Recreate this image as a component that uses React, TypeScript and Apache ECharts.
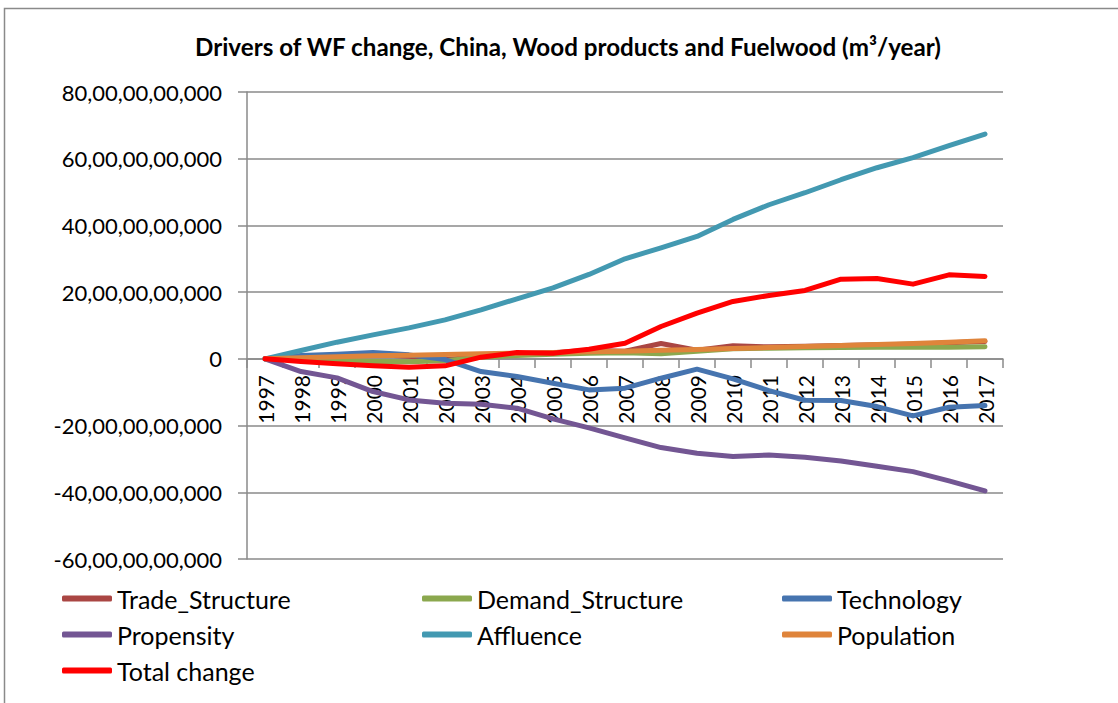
import React, { useEffect, useRef } from "react";
import * as echarts from "echarts";

const years = ["1997","1998","1999","2000","2001","2002","2003","2004","2005","2006","2007","2008","2009","2010","2011","2012","2013","2014","2015","2016","2017"];

// values in billions of m3/year
const tradeStructure = [0, 0.5, 0.8, 1.3, 0.8, -0.3, 0.8, 1.5, 1.8, 2.6, 2.3, 4.6, 2.6, 3.9, 3.6, 3.8, 4.0, 4.2, 4.4, 4.8, 5.2];
const demandStructure = [0, -0.2, -0.5, -0.8, -0.9, -0.6, 0.5, 1.0, 1.4, 1.7, 1.8, 1.5, 2.3, 3.0, 3.2, 3.3, 3.4, 3.5, 3.5, 3.5, 3.6];
const technology = [0, 1.0, 1.4, 1.9, 1.2, -0.2, -3.8, -5.3, -7.3, -9.3, -8.8, -5.8, -3.1, -6.0, -9.5, -12.4, -12.5, -14.3, -17.1, -14.5, -14.0];
const propensity = [0, -3.8, -5.7, -9.8, -12.3, -13.3, -13.6, -14.8, -18.0, -20.7, -23.7, -26.6, -28.3, -29.3, -28.8, -29.5, -30.6, -32.2, -33.8, -36.6, -39.6];
const affluence = [0, 2.5, 5.0, 7.2, 9.3, 11.7, 14.7, 18.0, 21.3, 25.3, 30.0, 33.3, 36.7, 41.8, 46.2, 49.8, 53.7, 57.3, 60.3, 63.9, 67.4];
const population = [0, 0.3, 0.6, 0.9, 1.1, 1.3, 1.5, 1.7, 1.9, 2.1, 2.3, 2.6, 2.8, 3.1, 3.4, 3.7, 4.0, 4.3, 4.6, 5.0, 5.4];
const totalChange = [0, -0.8, -1.5, -2.1, -2.5, -2.1, 0.5, 1.9, 1.7, 2.9, 4.7, 9.7, 13.7, 17.2, 19.0, 20.5, 23.9, 24.1, 22.4, 25.2, 24.7];

const seriesNames = ["Trade_Structure", "Demand_Structure", "Technology", "Propensity", "Affluence", "Population", "Total change"];
const seriesData = [tradeStructure, demandStructure, technology, propensity, affluence, population, totalChange];
const seriesColors = ["#AA4643", "#8BA84E", "#4674AF", "#735693", "#4399B1", "#DF843B", "#FF0000"];

const FONT = "Lato";

function indian(v: number): string {
  const n = Math.round(v * 1e9);
  const neg = n < 0;
  const s = String(Math.abs(n));
  let out = s;
  if (s.length > 3) {
    const last3 = s.slice(-3);
    let rest = s.slice(0, -3);
    const parts: string[] = [];
    while (rest.length > 2) {
      parts.unshift(rest.slice(-2));
      rest = rest.slice(0, -2);
    }
    if (rest) parts.unshift(rest);
    out = parts.join(",") + "," + last3;
  }
  return (neg ? "-" : "") + out;
}

export default function App() {
  const ref = useRef<HTMLDivElement>(null);
  useEffect(() => {
    if (!ref.current) return;
    const chart = echarts.init(ref.current, null, { renderer: "svg" });
    const legendItem = (names: string[], left: number) => ({
      orient: "vertical",
      left,
      top: 586,
      padding: 0,
      itemWidth: 50,
      itemHeight: 6,
      itemGap: 11,
      icon: "roundRect",
      data: names,
      textStyle: { fontFamily: FONT, fontSize: 25, color: "#000", lineHeight: 25 },
    });
    chart.setOption({
      animation: false,
      backgroundColor: "#fff",
      title: {
        text: "Drivers of WF change, China, Wood products and Fuelwood (m³/year)",
        left: 568,
        top: 34,
        padding: 0,
        textAlign: "center",
        textStyle: { fontFamily: FONT, fontSize: 24.2, fontWeight: "bold", color: "#000" },
      },
      graphic: [
        {
          type: "rect",
          shape: { x: 4.5, y: 8.5, width: 1300, height: 900 },
          style: { fill: "none", stroke: "#8a8a8a", lineWidth: 1.5 },
          silent: true,
        },
      ],
      legend: [
        legendItem(["Trade_Structure", "Propensity", "Total change"], 62),
        legendItem(["Demand_Structure", "Affluence"], 422),
        legendItem(["Technology", "Population"], 782),
      ],
      grid: { left: 247, right: 115, top: 92, bottom: 144, containLabel: false },
      xAxis: {
        type: "category",
        data: years,
        boundaryGap: true,
        position: "bottom",
        offset: -200,
        axisLine: { onZero: false, lineStyle: { color: "#8a8a8a", width: 1.5 } },
        axisTick: { show: true, length: 9, inside: false, alignWithLabel: false, lineStyle: { color: "#8a8a8a", width: 1.5 } },
        axisLabel: { rotate: 90, margin: 16, fontFamily: FONT, fontSize: 21, color: "#000", interval: 0 },
        splitLine: { show: false },
      },
      yAxis: {
        type: "value",
        min: -60,
        max: 80,
        interval: 20,
        axisLine: { show: true, lineStyle: { color: "#8a8a8a", width: 1.5 } },
        axisTick: { show: true, length: 9, lineStyle: { color: "#8a8a8a", width: 1.5 } },
        axisLabel: { formatter: (v: number) => indian(v), margin: 25, fontFamily: FONT, fontSize: 22, color: "#000" },
        splitLine: { show: true, lineStyle: { color: "#8a8a8a", width: 1.5 } },
      },
      series: seriesNames.map((name, i) => ({
        name,
        type: "line",
        data: seriesData[i],
        showSymbol: false,
        symbol: "none",
        smooth: false,
        color: seriesColors[i],
        lineStyle: { width: 5, color: seriesColors[i], cap: "round", join: "round" },
        z: 2 + i,
      })),
    });
    return () => chart.dispose();
  }, []);
  return (
    <div
      ref={ref}
      style={{ position: "absolute", left: 0, top: 0, width: 1118, height: 703 }}
    />
  );
}
